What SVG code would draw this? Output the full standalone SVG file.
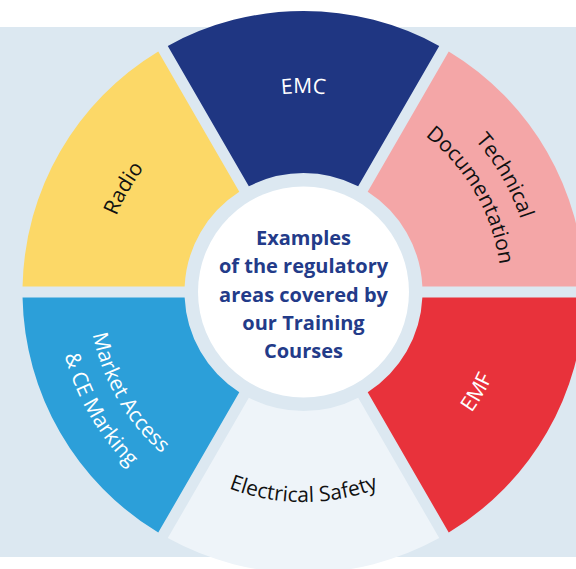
<svg xmlns="http://www.w3.org/2000/svg" xmlns:xlink="http://www.w3.org/1999/xlink" width="576" height="569" viewBox="0 0 576 569">
<style>
.lbl{font-family:"Open Sans","Noto Sans","DejaVu Sans",sans-serif;font-size:21px;font-weight:500;text-anchor:middle}
.dark{fill:#111111}
.light{fill:#ffffff}
.ctr{font-family:"Open Sans","Noto Sans","DejaVu Sans",sans-serif;font-size:20px;font-weight:700;fill:#233b89;text-anchor:middle}
</style>
<defs>
<path id="pEMC" d="M 175.6 139.6 A 199 199 0 0 1 431.4 139.6"/>
<path id="pRadio" d="M 104.6 327.1 A 202 202 0 0 1 234.4 102.2"/>
<path id="pTech" d="M 381.8 76.8 A 229 229 0 0 1 529.0 331.8"/>
<path id="pDoc" d="M 371.2 105.9 A 198 198 0 0 1 498.5 326.4"/>
<path id="pEMF" d="M 374.3 486.5 A 207 207 0 0 0 507.4 256.1"/>
<path id="pElec" d="M 168.5 452.9 A 210 210 0 0 0 438.5 452.9"/>
<path id="pMkt" d="M 91.8 254.7 A 215 215 0 0 0 230.0 494.0"/>
<path id="pCE" d="M 60.3 249.1 A 247 247 0 0 0 219.0 524.1"/>
</defs>
<rect x="0" y="27" width="576" height="530" fill="#dce8f1"/>
<g id="connectors"/>
<g id="emc">
<path d="M 167.79 45.94 A 281 281 0 0 1 439.21 45.94 L 358.17 186.30 A 119 119 0 0 0 248.83 186.30 Z" fill="#1f3682"/>
<text class="lbl light"><textPath xlink:href="#pEMC" href="#pEMC" startOffset="50%">EMC</textPath></text>
</g>
<g id="technical-documentation">
<path d="M 448.74 51.44 A 281 281 0 0 1 584.45 286.5 L 422.37 286.5 A 119 119 0 0 0 367.70 191.80 Z" fill="#f4a6a7"/>
<text class="lbl dark"><textPath xlink:href="#pTech" href="#pTech" startOffset="50%">Technical</textPath></text>
<text class="lbl dark"><textPath xlink:href="#pDoc" href="#pDoc" startOffset="50%">Documentation</textPath></text>
</g>
<g id="emf">
<path d="M 584.45 297.5 A 281 281 0 0 1 448.74 532.56 L 367.70 392.20 A 119 119 0 0 0 422.37 297.5 Z" fill="#e8323b"/>
<text class="lbl light"><textPath xlink:href="#pEMF" href="#pEMF" startOffset="50%">EMF</textPath></text>
</g>
<g id="electrical-safety">
<path d="M 439.21 538.06 A 281 281 0 0 1 167.79 538.06 L 248.83 397.70 A 119 119 0 0 0 358.17 397.70 Z" fill="#eef4f9"/>
<text class="lbl dark"><textPath xlink:href="#pElec" href="#pElec" startOffset="50%">Electrical Safety</textPath></text>
</g>
<g id="market-access">
<path d="M 158.26 532.56 A 281 281 0 0 1 22.55 297.5 L 184.63 297.5 A 119 119 0 0 0 239.30 392.20 Z" fill="#2c9fd9"/>
<text class="lbl light"><textPath xlink:href="#pMkt" href="#pMkt" startOffset="50%">Market Access</textPath></text>
<text class="lbl light"><textPath xlink:href="#pCE" href="#pCE" startOffset="50%">&amp; CE Marking</textPath></text>
</g>
<g id="radio">
<path d="M 22.55 286.5 A 281 281 0 0 1 158.26 51.44 L 239.30 191.80 A 119 119 0 0 0 184.63 286.5 Z" fill="#fcd867"/>
<text class="lbl dark"><textPath xlink:href="#pRadio" href="#pRadio" startOffset="50%">Radio</textPath></text>
</g>
<g id="center">
<circle cx="303.5" cy="292" r="105.5" fill="#ffffff"/>
<text class="ctr" x="303.5" y="245">Examples</text>
<text class="ctr" x="303.5" y="273.3">of the regulatory</text>
<text class="ctr" x="303.5" y="301.7">areas covered by</text>
<text class="ctr" x="303.5" y="330">our Training</text>
<text class="ctr" x="303.5" y="358.3">Courses</text>
</g>
</svg>
